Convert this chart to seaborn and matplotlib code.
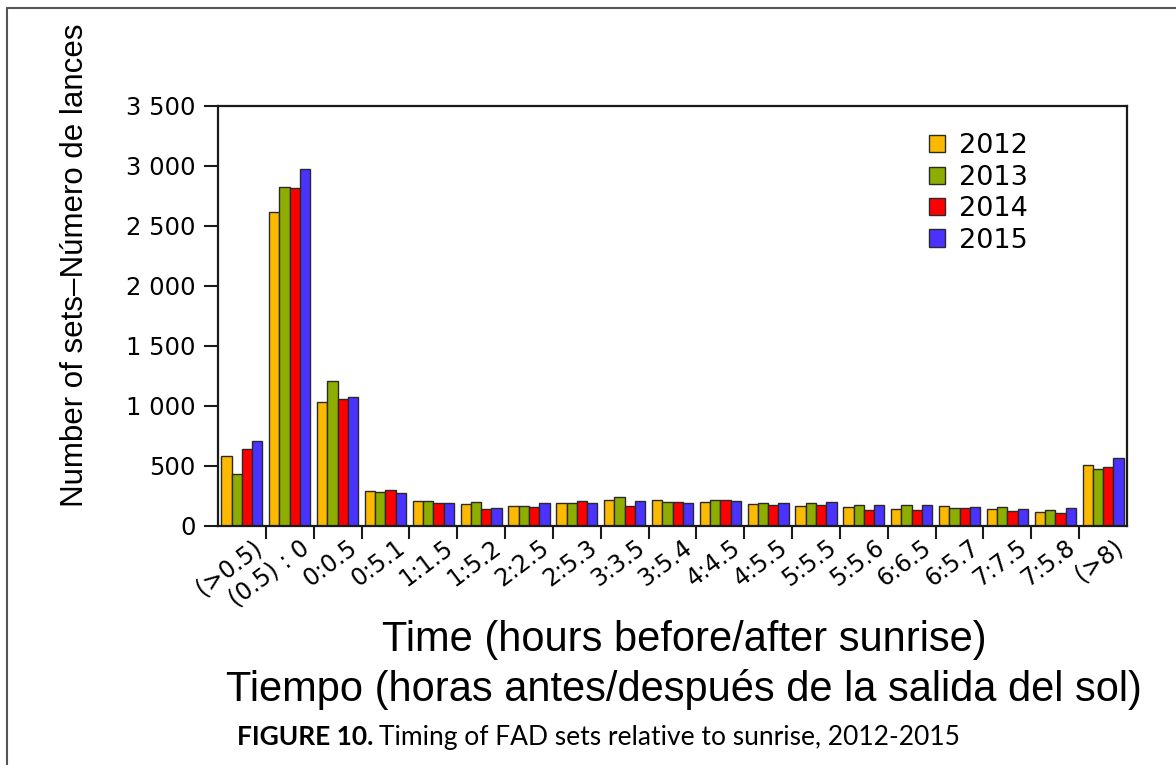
import numpy as np
import pandas as pd
import seaborn as sns
import matplotlib
matplotlib.use("Agg")
import matplotlib.pyplot as plt
from matplotlib.lines import Line2D
from matplotlib.ticker import FixedLocator, FuncFormatter
import matplotlib.transforms as mtransforms

# Time intervals relative to sunrise (hours)
intervals = ["(>0.5)", "(0.5) : 0", "0:0.5", "0:5.1", "1:1.5", "1:5.2", "2:2.5",
             "2:5.3", "3:3.5", "3:5.4", "4:4.5", "4:5.5", "5:5.5", "5:5.6",
             "6:6.5", "6:5.7", "7:7.5", "7:5.8", "(>8)"]
years = ["2012", "2013", "2014", "2015"]

# Number of FAD sets per interval and year
sets_2012 = [585, 2615, 1030, 290, 205, 180, 167, 187, 215, 215, 195, 179, 167, 159, 142, 167, 137, 112, 510]
sets_2013 = [432, 2825, 1210, 282, 205, 195, 167, 189, 242, 195, 215, 189, 187, 176, 173, 150, 159, 128, 471]
sets_2014 = [643, 2810, 1053, 300, 192, 140, 156, 204, 167, 195, 215, 176, 176, 131, 131, 145, 120, 103, 490]
sets_2015 = [710, 2970, 1075, 271, 192, 150, 187, 187, 204, 192, 206, 187, 195, 170, 176, 159, 142, 150, 568]

colors = ["#FBBA00", "#8DAE00", "#FF0000", "#4A32FF"]

df = pd.DataFrame({
    "interval": intervals * 4,
    "year": np.repeat(years, len(intervals)),
    "sets": sets_2012 + sets_2013 + sets_2014 + sets_2015,
})

sns.set_theme(style="white")
plt.rcParams["font.family"] = ["DejaVu Sans"]
plt.rcParams["text.color"] = "black"
plt.rcParams["xtick.color"] = "black"
plt.rcParams["ytick.color"] = "black"

fig = plt.figure(figsize=(11.76, 7.65), dpi=100)
ax = fig.add_axes([218 / 1176, 1 - 525.7 / 765, (1127 - 218) / 1176, (525.7 - 105.7) / 765])

sns.barplot(data=df, x="interval", y="sets", hue="year", order=intervals,
            hue_order=years, palette=colors, width=0.86, edgecolor="#2a2a2a",
            linewidth=1.0, saturation=1, ax=ax)

ax.set_xlim(-0.5, len(intervals) - 0.5)
ax.set_ylim(0, 3500)

for s in ax.spines.values():
    s.set_color("#1a1a1a")
    s.set_linewidth(1.6)
    s.set_visible(True)

# y axis: values with space as thousands separator
ax.yaxis.set_major_locator(FixedLocator(np.arange(0, 3501, 500)))
ax.yaxis.set_major_formatter(FuncFormatter(lambda v, p: f"{int(v):,}".replace(",", " ")))
ax.tick_params(axis="y", direction="out", length=10, width=1.5, color="#1a1a1a",
               labelsize=17.5, labelcolor="black", pad=6, left=True)

# x axis: tick marks between groups, labels centred under groups
ax.set_xticks(np.arange(len(intervals)))
ax.set_xticklabels(intervals, rotation=37, ha="right", va="top",
                   rotation_mode="anchor", fontsize=17, color="black")
ax.tick_params(axis="x", which="major", length=0, pad=4)
shift = mtransforms.ScaledTranslation(10 / 100, -4 / 100, fig.dpi_scale_trans)
for lbl in ax.get_xticklabels():
    lbl.set_transform(lbl.get_transform() + shift)
ax.set_xticks(np.arange(0.5, len(intervals) - 1, 1.0), minor=True)
ax.tick_params(axis="x", which="minor", direction="out", length=9, width=1.5,
               color="#1a1a1a", bottom=True)

ax.set_xlabel("")
ax.set_ylabel("")

leg = ax.legend(loc="upper left", bbox_to_anchor=(0.77, 0.96), frameon=False,
                fontsize=19.5, handlelength=0.6, handleheight=0.6,
                handletextpad=0.5, labelspacing=0.2, borderaxespad=0)
for h in leg.get_patches():
    h.set_edgecolor("#2a2a2a")
    h.set_linewidth(1.0)

# axis titles
fig.text(75 / 1176, 1 - 265 / 765, "Number of sets\u2013Número de lances",
         rotation=90, ha="center", va="center", fontsize=22.5,
         family=["Liberation Sans", "DejaVu Sans"])
fig.text(684 / 1176, 1 - 640 / 765, "Time (hours before/after sunrise)",
         ha="center", va="center", fontsize=30,
         family=["Liberation Sans", "DejaVu Sans"])
fig.text(684 / 1176, 1 - 689 / 765, "Tiempo (horas antes/después de la salida del sol)",
         ha="center", va="center", fontsize=30,
         family=["Liberation Sans", "DejaVu Sans"])

# figure caption
cap_y = 1 - 737 / 765
t1 = fig.text(237 / 1176, cap_y, "FIGURE 10.", ha="left", va="center",
              fontsize=19, fontweight="bold", family=["Lato", "DejaVu Sans"])
fig.canvas.draw()
bb = t1.get_window_extent()
fig.text(bb.x1 / 1176 + 6 / 1176, cap_y, "Timing of FAD sets relative to sunrise, 2012-2015",
         ha="left", va="center", fontsize=19, family=["Lato", "DejaVu Sans"])

# page frame
fig.add_artist(Line2D([7 / 1176, 7 / 1176], [0, 1 - 8 / 765], transform=fig.transFigure,
                      color="#555555", linewidth=1.5))
fig.add_artist(Line2D([7 / 1176, 1], [1 - 8 / 765, 1 - 8 / 765], transform=fig.transFigure,
                      color="#555555", linewidth=1.5))

fig.savefig("out.png", dpi=100)
